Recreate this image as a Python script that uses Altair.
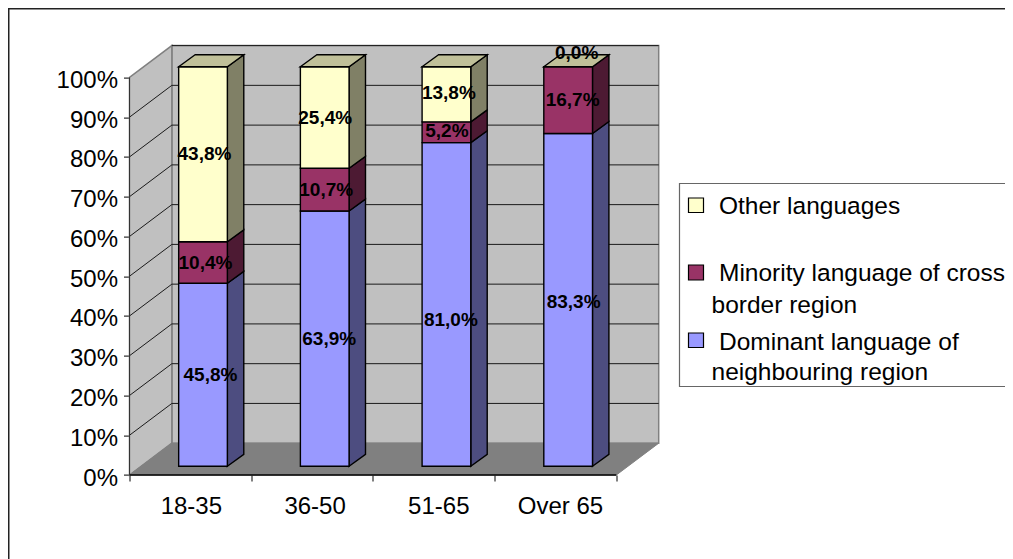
import altair as alt
import pandas as pd

# ---- chart values ----
categories = ["18-35", "36-50", "51-65", "Over 65"]
dominant = [45.8, 63.9, 81.0, 83.3]
minority = [10.4, 10.7, 5.2, 16.7]
other = [43.8, 25.4, 13.8, 0.0]
y_ticks = [0, 10, 20, 30, 40, 50, 60, 70, 80, 90, 100]
x_ticks = [0, 1, 2, 3, 4]
legend_lines = ["Other languages", "Minority language of cross", "border region",
                "Dominant language of", "neighbouring region"]

# ---- styles ----
FONT = "Liberation Sans"
front_col = ["#9999FF", "#993366", "#FFFFCC"]
side_col = ["#4D4D80", "#4D1A33", "#808066"]
top_col = "#C0C099"
WALL = "#C0C0C0"
FLOOR = "#808080"
EDGE = "#808080"

# ---- 3D projection in data units ----
W_DX, W_DY = 0.348, 8.0      # depth of the box
XMAX, YMAX = 4 + W_DX, 100 + W_DY
B_X0, B_W = 0.404, 0.4       # bar start in its category, bar width
B_DX, B_DY = 0.135, 3.0      # depth of bars
B_BASE, B_K = 2.19, 1.005    # raised base and height factor of bars
PX_W, PX_H = 529.2, 429.4
PAD_L, PAD_T = 121.5, 37.6
SVG_W, SVG_H = 997, 551
UX, UY = 121.7, 3.977        # pixels per data unit

# small placement shifts of the data labels, in pixels (series, then category)
label_dx = [[6, 3, 3, 4], [1, 0, -1, 3], [0, -1, 1, 0]]
label_dy = [[0, 0, 16, 2], [0, 0, -1, 0], [0, 1, -1, 0]]
cat_dx = [1, 3, 5, 5]

xs = alt.Scale(domain=[0, XMAX], nice=False, zero=False)
ys = alt.Scale(domain=[0, YMAX], nice=False, zero=False)
x_axis = alt.Axis(values=x_ticks, labels=False, domain=False, grid=False, tickSize=6,
                  tickColor="black", title=None)
y_axis = alt.Axis(values=y_ticks, labelExpr="datum.value + '%'", domain=False, grid=False,
                  tickSize=6, tickColor="black", labelFont=FONT, labelFontSize=24,
                  labelColor="black", labelPadding=6, labelOffset=3, title=None)
X = lambda f="x": alt.X(f"{f}:Q", scale=xs, axis=x_axis, title=None)
Y = lambda f="y": alt.Y(f"{f}:Q", scale=ys, axis=y_axis, title=None)
ONE = pd.DataFrame({"a": [0]})

# walls and floor
back = alt.Chart(pd.DataFrame({"x": [W_DX], "x2": [XMAX], "y": [W_DY], "y2": [YMAX]})).mark_rect(
    fill=WALL, stroke=EDGE, strokeWidth=1.5).encode(x=X(), x2="x2:Q", y=Y(), y2="y2:Q")

left = alt.Chart(pd.DataFrame({"x": [0, W_DX], "y": [0, W_DY], "y2": [100, YMAX]})).mark_area(
    orient="vertical", fill=WALL, stroke=EDGE, strokeWidth=1.5).encode(x=X(), y=Y(), y2="y2:Q")

floor = alt.Chart(pd.DataFrame({"y": [0, W_DY], "x": [0, W_DX], "x2": [4, XMAX]})).mark_area(
    orient="horizontal", fill=FLOOR, stroke=EDGE, strokeWidth=1).encode(y=Y(), x=X(), x2="x2:Q")

grid_df = pd.DataFrame({"t": y_ticks})
grid_df["gy"] = grid_df["t"] + W_DY
grid_df["x"] = W_DX
grid_df["x2"] = XMAX
grid_df["x0"] = 0.0
back_grid = alt.Chart(grid_df[grid_df.t > 0]).mark_rule(color="#1a1a1a", strokeWidth=1).encode(
    x=X(), x2="x2:Q", y=Y("gy"))
side_grid = alt.Chart(grid_df[(grid_df.t > 0) & (grid_df.t < 100)]).mark_rule(color="#1a1a1a", strokeWidth=1).encode(
    x=X("x0"), x2="x:Q", y=Y("t"), y2="gy:Q")
axis_x = alt.Chart(pd.DataFrame({"x": [0], "x2": [4], "y": [0]})).mark_rule(color="black", strokeWidth=1.5).encode(
    x=X(), x2="x2:Q", y=Y())
axis_y = alt.Chart(pd.DataFrame({"x": [0], "y": [0], "y2": [100]})).mark_rule(color="#333333", strokeWidth=1).encode(
    x=X(), y=Y(), y2="y2:Q")

# bars
front_rows, side_rows, top_rows, label_rows = [], [], [], []
for i, cat in enumerate(categories):
    x0 = i + B_X0
    x1 = x0 + B_W
    cum = 0.0
    for s, vals in enumerate([dominant, minority, other]):
        v = vals[i]
        lo = B_BASE + B_K * cum
        hi = B_BASE + B_K * (cum + v)
        cum += v
        mid = (lo + hi) / 2
        txt = f"{v:.1f}".replace(".", ",") + "%"
        if v == 0:
            label_rows.append({"x": (x0 + x1) / 2 + 0.07, "y": hi + 3.4, "t": txt})
            continue
        label_rows.append({"x": (x0 + x1) / 2 + 0.012 + label_dx[s][i] / UX,
                           "y": mid - label_dy[s][i] / UY, "t": txt})
        front_rows.append({"x": x0, "x2": x1, "y": lo, "y2": hi, "c": front_col[s], "s": s})
        g = f"{i}-{s}"
        side_rows.append({"g": g, "x": x1, "y": lo, "y2": hi, "c": side_col[s], "s": s})
        side_rows.append({"g": g, "x": x1 + B_DX, "y": lo + B_DY, "y2": hi + B_DY, "c": side_col[s], "s": s})
    top = B_BASE + B_K * cum
    top_rows.append({"g": i, "y": top, "x": x0, "x2": x1, "c": top_col})
    top_rows.append({"g": i, "y": top + B_DY, "x": x0 + B_DX, "x2": x1 + B_DX, "c": top_col})

sides = alt.Chart(pd.DataFrame(side_rows)).mark_area(
    orient="vertical", stroke="black", strokeWidth=1.4).encode(
    x=X(), y=Y(), y2="y2:Q", fill=alt.Fill("c:N", scale=None), detail="g:N")
tops = alt.Chart(pd.DataFrame(top_rows)).mark_area(
    orient="horizontal", stroke="black", strokeWidth=1.4).encode(
    y=Y(), x=X(), x2="x2:Q", fill=alt.Fill("c:N", scale=None), detail="g:N")
fronts = alt.Chart(pd.DataFrame(front_rows)).mark_rect(stroke="black", strokeWidth=1.4).encode(
    x=X(), x2="x2:Q", y=Y(), y2="y2:Q", fill=alt.Fill("c:N", scale=None))
labels = alt.Chart(pd.DataFrame(label_rows)).mark_text(
    font=FONT, fontSize=19, fontWeight="bold", color="black", align="center", baseline="middle").encode(
    x=X(), y=Y(), text="t:N")

cat_df = pd.DataFrame({"c": categories, "x": [i + 0.5 + cat_dx[i] / UX for i in range(4)]})
cat_text = alt.Chart(cat_df).mark_text(
    font=FONT, fontSize=24, color="black", align="center", baseline="middle").encode(
    x=X(), y=alt.value(507 - 8 - PAD_T), text="c:N")

# legend, drawn by hand because its wrapped lines run back under the swatch
def px(v):
    return v - 8 - PAD_L
def py(v):
    return v - 8 - PAD_T

box = alt.Chart(ONE).mark_rect(fill="white", stroke="#666666", strokeWidth=1.2).encode(
    x=alt.value(px(679.5)), x2=alt.value(px(1030)), y=alt.value(py(183.5)), y2=alt.value(py(386.5)))
sw_rows = [
    {"x": 688.5, "x2": 703.5, "y": 198, "y2": 212.5, "c": front_col[2]},
    {"x": 688.5, "x2": 703.5, "y": 265, "y2": 280, "c": front_col[1]},
    {"x": 688.5, "x2": 703.5, "y": 333, "y2": 347.5, "c": front_col[0]},
]
swatches = [
    alt.Chart(ONE).mark_rect(fill=r["c"], stroke="black", strokeWidth=1.2).encode(
        x=alt.value(px(r["x"])), x2=alt.value(px(r["x2"])), y=alt.value(py(r["y"])), y2=alt.value(py(r["y2"])))
    for r in sw_rows
]
leg_x = [719, 719, 711.5, 719, 711.5]
leg_y = [207, 274, 306, 342.5, 372.5]
leg_text = [
    alt.Chart(pd.DataFrame({"t": [t]})).mark_text(
        font=FONT, fontSize=24.5, color="black", align="left", baseline="middle").encode(
        x=alt.value(px(lx)), y=alt.value(py(ly)), text="t:N")
    for t, lx, ly in zip(legend_lines, leg_x, leg_y)
]

# outer frame: only top and left edges are visible in the reference
frame_top = alt.Chart(ONE).mark_rule(color="#222222", strokeWidth=2).encode(
    x=alt.value(px(8)), x2=alt.value(px(1013)), y=alt.value(py(8.5)))
frame_left = alt.Chart(ONE).mark_rule(color="#222222", strokeWidth=2).encode(
    x=alt.value(px(8.5)), y=alt.value(py(8)), y2=alt.value(py(559)))

chart = alt.layer(
    back, left, floor, back_grid, side_grid, axis_x, axis_y,
    sides, fronts, tops, labels, cat_text,
    box, *swatches, *leg_text, frame_top, frame_left,
).properties(
    width=PX_W, height=PX_H,
    padding={"left": PAD_L, "top": PAD_T, "right": SVG_W - PAD_L - PX_W, "bottom": SVG_H - PAD_T - PX_H},
    autosize=alt.AutoSizeParams(type="none"),
    background="white",
).configure_view(stroke=None)

chart.save("out.html", embed_options={"renderer": "svg", "actions": False})
